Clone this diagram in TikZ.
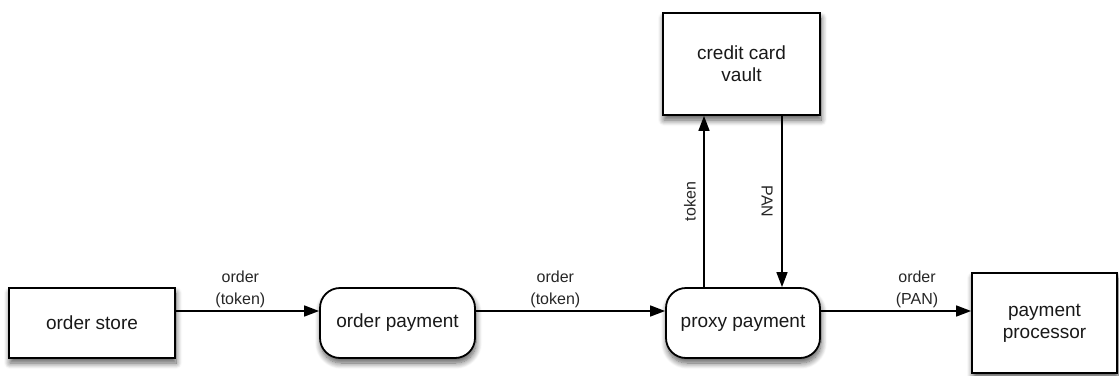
\documentclass[tikz,border=0pt]{standalone}
\usepackage{fontspec}
\setmainfont{Liberation Sans}
\usetikzlibrary{arrows.meta,shadows.blur}

\tikzset{
  box/.style={draw=black, line width=1.8pt, fill=white, inner sep=0pt,
    align=center, font=\fontsize{19}{22}\selectfont, text=black!90,
    blur shadow={shadow xshift=1pt, shadow yshift=-5pt,
      shadow blur radius=6pt, shadow blur steps=10, shadow opacity=65}},
  roundbox/.style={box, rounded corners=20pt},
  flow/.style={draw=black, line width=1.5pt,
    -{Triangle[length=15pt,width=11pt]}},
  lbl/.style={font=\fontsize{16}{22}\selectfont, align=center,
    text=black!85, inner sep=1pt},
}

\begin{document}
\begin{tikzpicture}[x=1pt,y=-1pt]
  \useasboundingbox (0,0) rectangle (1119,375);

  % processing stages
  \node[box, minimum width=166pt, minimum height=70pt] (store) at (92,323) {order store};
  \node[roundbox, minimum width=155pt, minimum height=70pt] (opay) at (397.5,323) {order payment};
  \node[roundbox, minimum width=154pt, minimum height=70pt] (proxy) at (743,323) {proxy payment};
  \node[box, minimum width=157pt, minimum height=102pt] (vault) at (741.5,64) {credit card\\vault};
  \node[box, minimum width=145pt, minimum height=100pt] (proc) at (1044.5,323) {payment\\processor};

  % horizontal flow
  \draw[flow] ([yshift=12pt]store.east) -- ([yshift=12pt]opay.west)
    node[lbl, pos=0.45, anchor=south, yshift=1pt] {order\\(token)};
  \draw[flow] ([yshift=12pt]opay.east) -- ([yshift=12pt]proxy.west)
    node[lbl, pos=0.42, anchor=south, yshift=1pt] {order\\(token)};
  \draw[flow] ([yshift=12pt]proxy.east) -- ([yshift=12pt]proc.west)
    node[lbl, pos=0.64, anchor=south, yshift=1pt] {order\\(PAN)};

  % exchange with the vault
  \draw[flow] ([xshift=-39pt]proxy.north) -- ([xshift=-39pt]proxy.north |- vault.south)
    node[lbl, midway, xshift=-14pt, rotate=90] {token};
  \draw[flow] ([xshift=39pt]proxy.north |- vault.south) -- ([xshift=39pt]proxy.north)
    node[lbl, midway, xshift=-15pt, rotate=-90] {PAN};
\end{tikzpicture}
\end{document}
